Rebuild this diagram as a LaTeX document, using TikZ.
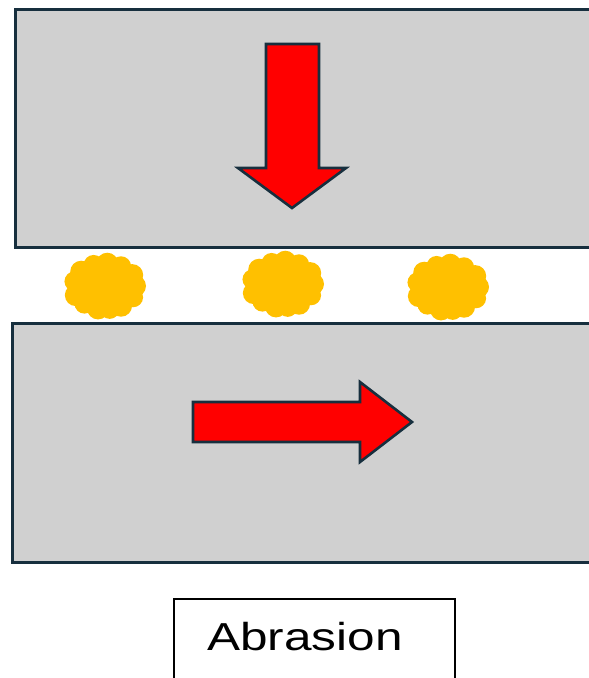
\documentclass[tikz,border=0pt]{standalone}
\usepackage{fontspec}
\setmainfont{Liberation Sans}
\definecolor{plate}{HTML}{D0D0D0}
\definecolor{edge}{HTML}{172F3E}
\definecolor{force}{HTML}{FF0000}
\definecolor{grit}{HTML}{FFC000}
\tikzset{
  platebox/.style={fill=plate, draw=edge, line width=3pt},
  forcearrow/.style={fill=force, draw=edge, line width=2.6pt, line join=miter},
  labelbox/.style={draw=black, line width=1.4pt, fill=white},
}
% an irregular, slightly bumpy particle centred at #1
\newcommand{\gritblob}[1]{%
  \begin{scope}[shift={#1}]
    \fill[grit] (0,0) ellipse [x radius=36pt, y radius=30pt];
    \foreach \a/\d/\r in {0/30/11, 25/31/10, 55/28/11, 80/27/10, 105/27/11, 135/29/10,
                          160/31/11, 190/31/10, 215/29/11, 245/27/10, 275/26/11, 305/28/10, 335/30/11}
      \fill[grit] ({\d*cos(\a)},{0.86*\d*sin(\a)}) circle [radius=\r pt];
  \end{scope}}
\begin{document}
\begin{tikzpicture}[x=1pt,y=-1pt]
  \useasboundingbox (0,0) rectangle (589,678);
  \clip (0,0) rectangle (589,678);

  % upper and lower surfaces
  \draw[platebox] (15,9) rectangle (605,247);
  \draw[platebox] (12,323) rectangle (605,562);

  % normal load on the upper surface
  \draw[forcearrow] (266,44) -- (319,44) -- (319,168) -- (346,168) -- (292,208)
    -- (238,168) -- (266,168) -- cycle;

  % sliding motion of the lower surface
  \draw[forcearrow] (193,402) -- (360,402) -- (360,382) -- (412,422) -- (360,462)
    -- (360,442) -- (193,442) -- cycle;

  % abrasive particles trapped between the surfaces
  \gritblob{(105,286)}
  \gritblob{(283,284)}
  \gritblob{(448,287)}

  % caption
  \draw[labelbox] (174,599) rectangle (455,690);
  \node[anchor=base, inner sep=0pt, xscale=1.27, font=\fontsize{39}{39}\selectfont] (cap) at (305,650) {Abrasion};
\end{tikzpicture}
\end{document}
